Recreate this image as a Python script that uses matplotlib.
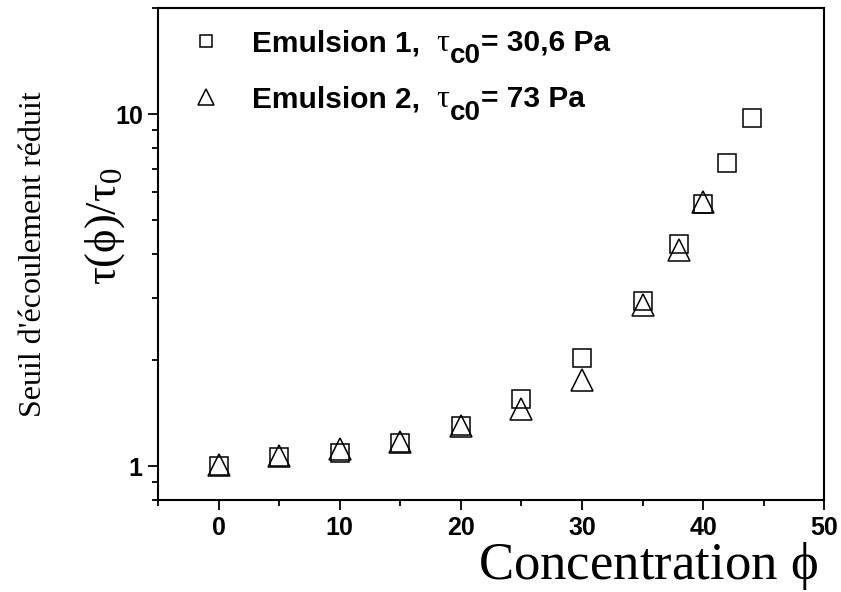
import matplotlib
matplotlib.use("Agg")
import matplotlib.pyplot as plt
from matplotlib.ticker import LogLocator, NullFormatter, FixedLocator, FixedFormatter

plt.rcParams['mathtext.fontset'] = 'custom'
plt.rcParams['mathtext.rm'] = 'Liberation Serif'
plt.rcParams['mathtext.it'] = 'Liberation Serif'
plt.rcParams['mathtext.bf'] = 'Liberation Sans:bold'

# Emulsion 1 (squares)
conc_1 = [0, 5, 10, 15, 20, 25, 30, 35, 38, 40, 42, 44]
ratio_1 = [1.0, 1.06, 1.09, 1.16, 1.30, 1.55, 2.03, 2.95, 4.29, 5.54, 7.25, 9.77]

# Emulsion 2 (triangles)
conc_2 = [0, 5, 10, 15, 20, 25, 30, 35, 38, 40]
ratio_2 = [1.01, 1.07, 1.12, 1.17, 1.30, 1.45, 1.76, 2.87, 4.12, 5.62]

names = ["Emulsion 1,", "Emulsion 2,"]
tau_values = ["= 30,6 Pa", "= 73 Pa"]

fig = plt.figure(figsize=(8.41, 5.92), dpi=100)
ax = fig.add_axes([0.188, 0.155, 0.792, 0.831])

ax.plot(conc_1, ratio_1, ls='none', marker='s', ms=12.5, mfc='none',
        mec='black', mew=1.1, label=names[0])
ax.plot(conc_2, ratio_2, ls='none', marker='^', ms=16, mfc='none',
        mec='black', mew=1.1, label=names[1])

ax.set_yscale('log')
ax.set_xlim(-5, 50)
ax.set_ylim(0.8, 20)

ax.xaxis.set_major_locator(FixedLocator([0, 10, 20, 30, 40, 50]))
ax.xaxis.set_minor_locator(FixedLocator([-5, 5, 15, 25, 35, 45]))
ax.yaxis.set_major_locator(FixedLocator([1, 10]))
ax.yaxis.set_major_formatter(FixedFormatter(['1', '10']))
ax.yaxis.set_minor_locator(LogLocator(base=10, subs=range(2, 10)))
ax.yaxis.set_minor_formatter(NullFormatter())

for lab in ax.get_xticklabels() + ax.get_yticklabels():
    lab.set_fontfamily('Liberation Sans')
    lab.set_fontweight('bold')
    lab.set_fontsize(18)

ax.tick_params(which='major', direction='out', length=7, width=1.3, pad=4)
ax.tick_params(which='minor', direction='out', length=4.5, width=1.3)
for s in ax.spines.values():
    s.set_linewidth(1.5)

fig.text(0.9727, 13 / 592, r"Concentration $\phi$", family='Liberation Serif',
         fontsize=38, ha='right', va='baseline')

fig.text(0.04, 0.57, "Seuil d'écoulement réduit", family='Liberation Serif',
         fontsize=23, rotation=90, ha='center', va='center')
fig.text(0.125, 0.617, r"$\tau(\phi)/\tau_0$", fontsize=32,
         rotation=90, ha='center', va='center')

fs = 21.5
leg = ax.legend(loc='upper left', bbox_to_anchor=(-0.013, 1.012), frameon=False,
                markerscale=0.72, handletextpad=0.55, labelspacing=0.95,
                prop={'family': 'Liberation Sans', 'weight': 'bold', 'size': fs})

# tau_c0 part of each legend entry, placed after the legend text
desc = 0.212 * fs
sans_bold = dict(family='Liberation Sans', weight='bold')
for txt, val in zip(leg.get_texts(), tau_values):
    t_tau = ax.annotate(r"$\tau$", xy=(1, 0), xycoords=txt, xytext=(11, desc),
                        textcoords='offset points', va='baseline', ha='left',
                        fontsize=23, zorder=6)
    t_sub = ax.annotate("c0", xy=(1, 0), xycoords=(t_tau, txt),
                        xytext=(0, desc - 9), textcoords='offset points',
                        va='baseline', ha='left', fontsize=20, zorder=6,
                        **sans_bold)
    ax.annotate(val, xy=(1, 0), xycoords=(t_sub, txt), xytext=(0, desc),
                textcoords='offset points', va='baseline', ha='left',
                fontsize=fs, zorder=6, **sans_bold)

fig.savefig("out.png", dpi=100)
